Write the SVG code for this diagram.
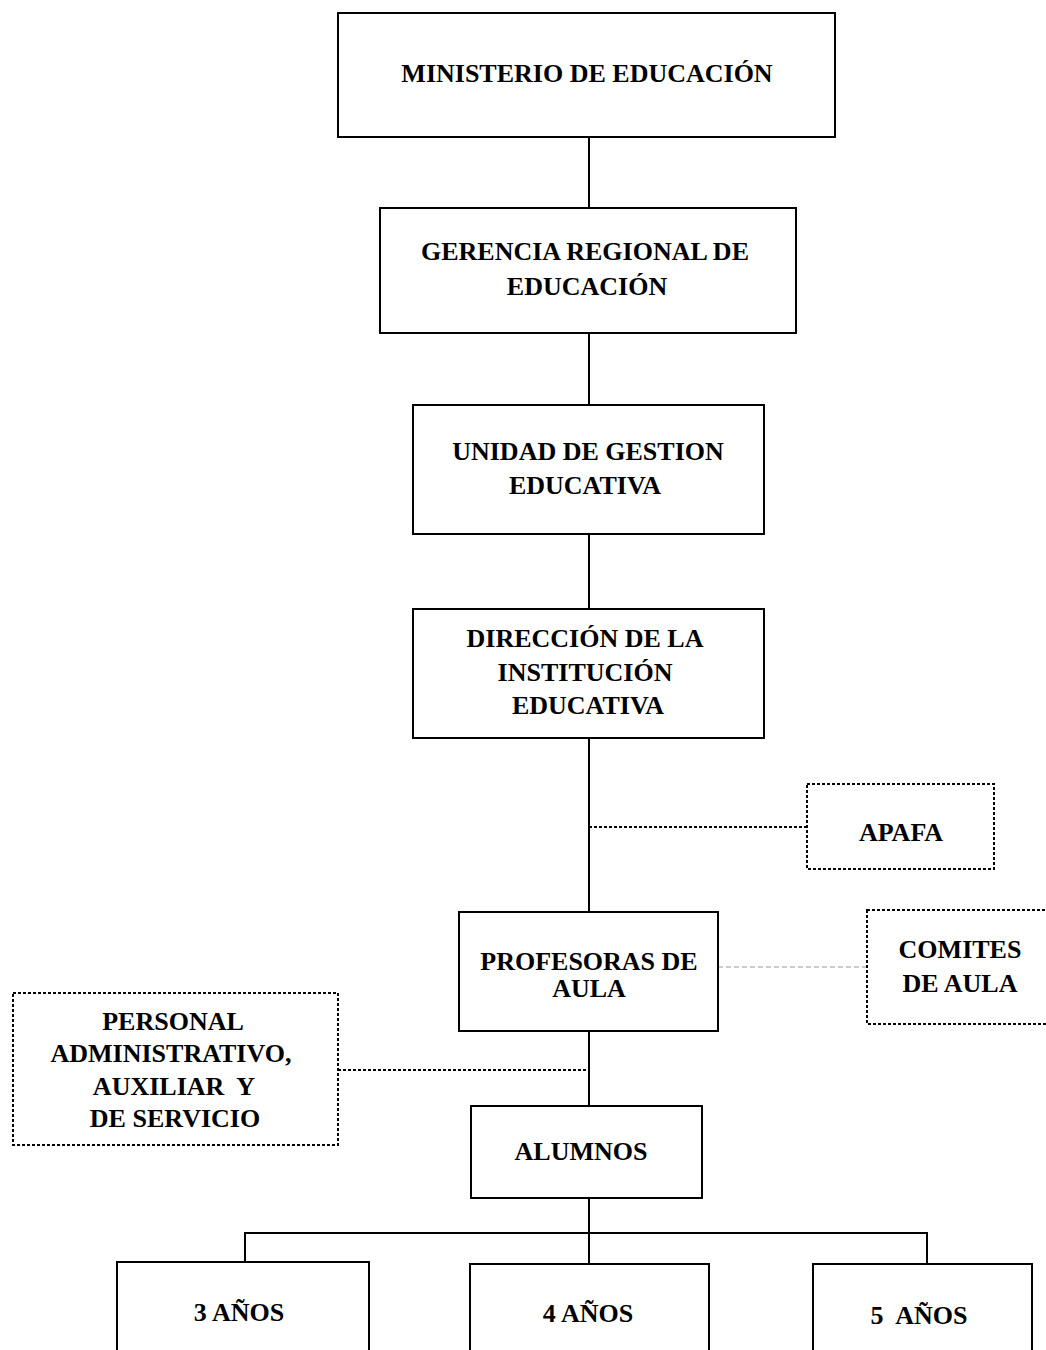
<svg xmlns="http://www.w3.org/2000/svg" width="1046" height="1350" viewBox="0 0 1046 1350">
<style>
  .box { fill: #ffffff; stroke: #000000; stroke-width: 2; }
  .dbox { fill: #ffffff; stroke: #000000; stroke-width: 2; stroke-dasharray: 3 2; }
  .line { fill: none; stroke: #000000; stroke-width: 2; }
  .dline { fill: none; stroke: #000000; stroke-width: 2; stroke-dasharray: 3 2; }
  .gline { fill: none; stroke: #9a9a9a; stroke-width: 1.2; stroke-dasharray: 5 3; }
  .t { font-family: 'Liberation Serif', 'Times New Roman', serif; font-weight: 700; font-size: 26px; fill: #000000; text-anchor: middle; }
</style>
<rect width="1046" height="1350" fill="#ffffff"/>
<g id="connectors">
  <line class="line" x1="589" y1="137" x2="589" y2="208"/>
  <line class="line" x1="589" y1="333" x2="589" y2="405"/>
  <line class="line" x1="589" y1="534" x2="589" y2="609"/>
  <line class="line" x1="589" y1="738" x2="589" y2="912"/>
  <line class="line" x1="589" y1="1031" x2="589" y2="1106"/>
  <line class="line" x1="589" y1="1198" x2="589" y2="1264"/>
  <polyline class="line" points="245,1262 245,1233 927,1233 927,1264"/>
  <line class="dline" x1="589" y1="827" x2="807" y2="827"/>
  <line class="gline" x1="718" y1="967" x2="867" y2="967"/>
  <line class="dline" x1="338" y1="1070" x2="589" y2="1070"/>
</g>
<g font-family="Liberation Serif, Times New Roman, serif" font-weight="bold" font-size="26">
<g id="ministerio">
  <rect class="box" x="338" y="13" width="497" height="124"/>
  <text class="t" x="587" y="82">MINISTERIO DE EDUCACIÓN</text>
</g>
<g id="gerencia">
  <rect class="box" x="380" y="208" width="416" height="125"/>
  <text class="t" x="585" y="260">GERENCIA REGIONAL DE</text>
  <text class="t" x="587" y="295">EDUCACIÓN</text>
</g>
<g id="unidad">
  <rect class="box" x="413" y="405" width="351" height="129"/>
  <text class="t" x="588" y="460">UNIDAD DE GESTION</text>
  <text class="t" x="585" y="494">EDUCATIVA</text>
</g>
<g id="direccion">
  <rect class="box" x="413" y="609" width="351" height="129"/>
  <text class="t" x="585" y="647">DIRECCIÓN DE LA</text>
  <text class="t" x="585" y="681">INSTITUCIÓN</text>
  <text class="t" x="588" y="714">EDUCATIVA</text>
</g>
<g id="apafa">
  <rect class="dbox" x="807" y="784" width="187" height="85"/>
  <text class="t" x="901" y="841">APAFA</text>
</g>
<g id="profesoras">
  <rect class="box" x="459" y="912" width="259" height="119"/>
  <text class="t" x="589" y="970">PROFESORAS DE</text>
  <text class="t" x="589" y="997">AULA</text>
</g>
<g id="comites">
  <rect class="dbox" x="867" y="910" width="190" height="114"/>
  <text class="t" x="960" y="958">COMITES</text>
  <text class="t" x="960" y="992">DE AULA</text>
</g>
<g id="personal">
  <rect class="dbox" x="13" y="993" width="325" height="152"/>
  <text class="t" x="173" y="1030">PERSONAL</text>
  <text class="t" x="171" y="1062">ADMINISTRATIVO,</text>
  <text class="t" x="174" y="1095" xml:space="preserve">AUXILIAR  Y</text>
  <text class="t" x="175" y="1127">DE SERVICIO</text>
</g>
<g id="alumnos">
  <rect class="box" x="471" y="1106" width="231" height="92"/>
  <text class="t" x="581" y="1160">ALUMNOS</text>
</g>
<g id="anos3">
  <rect class="box" x="117" y="1262" width="252" height="100"/>
  <text class="t" x="239" y="1321">3 AÑOS</text>
</g>
<g id="anos4">
  <rect class="box" x="470" y="1264" width="239" height="100"/>
  <text class="t" x="588" y="1322">4 AÑOS</text>
</g>
<g id="anos5">
  <rect class="box" x="813" y="1264" width="219" height="100"/>
  <text class="t" x="919" y="1324" xml:space="preserve">5  AÑOS</text>
</g>
</g>
</svg>
